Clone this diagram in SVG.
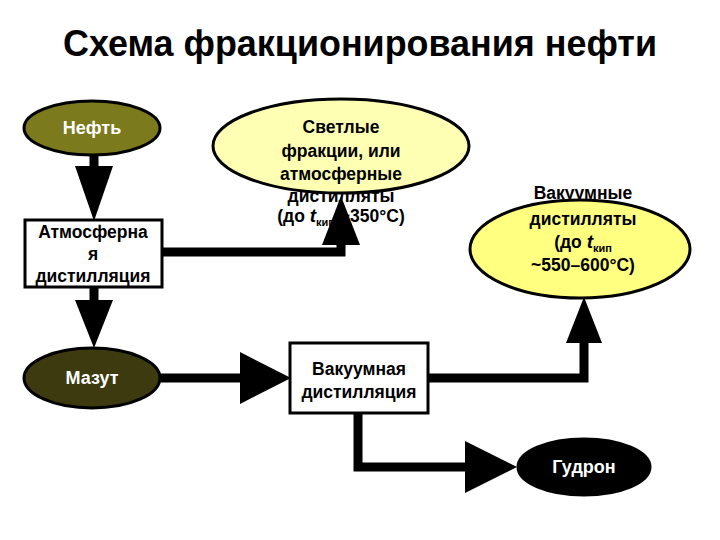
<svg xmlns="http://www.w3.org/2000/svg" width="720" height="540" viewBox="0 0 720 540">
<style>
.t{font-family:"Liberation Sans",Arial,sans-serif;font-weight:bold;font-size:17.5px;text-anchor:middle;fill:#000}
.w{fill:#fff;font-size:18px}
.box{fill:#fff;stroke:#000;stroke-width:3}
.el{stroke:#000;stroke-width:3}
.ln{fill:none;stroke:#000;stroke-width:9;stroke-linejoin:miter}
.ah{fill:#000}
</style>
<rect width="720" height="540" fill="#fff"/>
<text x="360" y="56" class="t" style="font-size:36px" textLength="594" lengthAdjust="spacingAndGlyphs">Схема фракционирования нефти</text>
<g id="connectors">
<line class="ln" x1="94" y1="155" x2="94" y2="170"/>
<polygon class="ah" points="75,166 113,166 94,221"/>
<line class="ln" x1="94" y1="287" x2="94" y2="302"/>
<polygon class="ah" points="75,300 113,300 94,348"/>
<polyline class="ln" points="162,252 341,252 341,240"/>
<polygon class="ah" points="322,245 360,245 341,196"/>
<line class="ln" x1="160" y1="378" x2="245" y2="378"/>
<polygon class="ah" points="240,352 240,404 291,378"/>
<polyline class="ln" points="428,378 584,378 584,340"/>
<polygon class="ah" points="566,343 602,343 584,297"/>
<polyline class="ln" points="358,413 358,467 470,467"/>
<polygon class="ah" points="465,441 465,493 517,467"/>
</g>
<g id="neft">
<ellipse class="el" cx="92" cy="128" rx="68" ry="27" fill="#7b7a1c"/>
<text x="92" y="134" class="t w">Нефть</text>
</g>
<g id="atm">
<rect class="box" x="25" y="220" width="137" height="67"/>
<text x="93" y="238" class="t">Атмосферна</text>
<text x="93" y="260" class="t">я</text>
<text x="93" y="282" class="t">дистилляция</text>
</g>
<g id="light">
<ellipse class="el" cx="341" cy="146" rx="128" ry="47" fill="#ffffb3"/>
<text x="341" y="133" class="t">Светлые</text>
<text x="341" y="157" class="t">фракции, или</text>
<text x="341" y="180" class="t">атмосферные</text>
<text x="341" y="202" class="t">дистилляты</text>
<text x="341" y="222" class="t">(до <tspan font-style="italic" font-size="19">t</tspan><tspan font-size="11" dy="4">кип</tspan><tspan dy="-4"> ~350°С)</tspan></text>
</g>
<g id="mazut">
<ellipse class="el" cx="92" cy="378" rx="68" ry="30" fill="#3c3a0e"/>
<text x="92" y="384" class="t w">Мазут</text>
</g>
<g id="vac">
<rect class="box" x="290" y="343" width="138" height="70"/>
<text x="359" y="375" class="t">Вакуумная</text>
<text x="359" y="398" class="t">дистилляция</text>
</g>
<g id="vacdist">
<text x="583" y="199" class="t">Вакуумные</text>
<ellipse class="el" cx="580" cy="249" rx="110" ry="49" fill="#ffff80"/>
<text x="583" y="225" class="t">дистилляты</text>
<text x="583" y="248" class="t">(до <tspan font-style="italic" font-size="19">t</tspan><tspan font-size="11" dy="4">кип</tspan></text>
<text x="583" y="271" class="t">~550–600°С)</text>
</g>
<g id="gudron">
<ellipse class="el" cx="584" cy="467" rx="66" ry="28" fill="#000"/>
<text x="584" y="473" class="t w">Гудрон</text>
</g>
</svg>
